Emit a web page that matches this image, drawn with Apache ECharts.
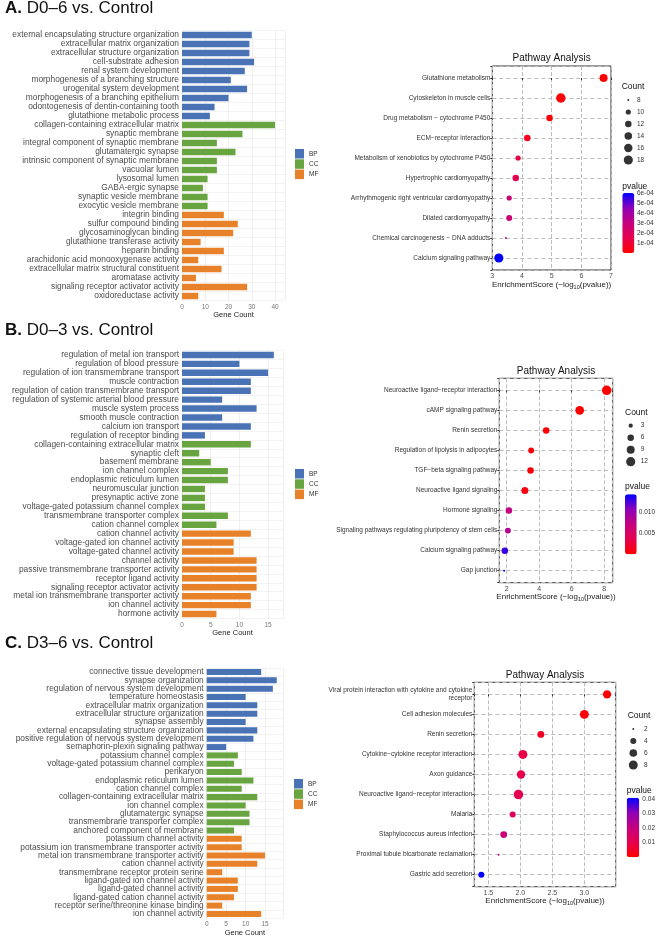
<!DOCTYPE html>
<html>
<head>
<meta charset="utf-8">
<title>GO / KEGG enrichment</title>
<style>
html, body { margin: 0; padding: 0; background: #fff; }
#main { width: 658px; height: 938px; }
</style>
</head>
<body>
<div id="main"></div>
<script src="https://cdn.jsdelivr.net/npm/echarts@6/dist/echarts.min.js"></script>
<script>
// ---------- A. D0-6 vs. Control ----------
var goA_bp = ['external encapsulating structure organization', 'extracellular matrix organization', 'extracellular structure organization', 'cell-substrate adhesion', 'renal system development', 'morphogenesis of a branching structure', 'urogenital system development', 'morphogenesis of a branching epithelium', 'odontogenesis of dentin-containing tooth', 'glutathione metabolic process'];
var goA_bpCount = [30, 29, 29, 31, 27, 21, 28, 20, 14, 12];
var goA_cc = ['collagen-containing extracellular matrix', 'synaptic membrane', 'integral component of synaptic membrane', 'glutamatergic synapse', 'intrinsic component of synaptic membrane', 'vacuolar lumen', 'lysosomal lumen', 'GABA-ergic synapse', 'synaptic vesicle membrane', 'exocytic vesicle membrane'];
var goA_ccCount = [40, 26, 15, 23, 15, 15, 11, 9, 11, 11];
var goA_mf = ['integrin binding', 'sulfur compound binding', 'glycosaminoglycan binding', 'glutathione transferase activity', 'heparin binding', 'arachidonic acid monooxygenase activity', 'extracellular matrix structural constituent', 'aromatase activity', 'signaling receptor activator activity', 'oxidoreductase activity'];
var goA_mfCount = [18, 24, 22, 8, 18, 7, 17, 6, 28, 7];

var keggA_terms = ['Glutathione metabolism', 'Cytoskeleton in muscle cells', 'Drug metabolism \u2212 cytochrome P450', 'ECM\u2212receptor interaction', 'Metabolism of xenobiotics by cytochrome P450', 'Hypertrophic cardiomyopathy', 'Arrhythmogenic right ventricular cardiomyopathy', 'Dilated cardiomyopathy', 'Chemical carcinogenesis \u2212 DNA adducts', 'Calcium signaling pathway'];
var keggA_score = [6.75, 5.31, 4.93, 4.18, 3.87, 3.79, 3.57, 3.57, 3.46, 3.22];
var keggA_count = [15, 19, 12, 12, 10, 12, 10, 11, 8, 18];
var keggA_pvalue = [1.8e-7, 4.9e-6, 1.2e-5, 6.6e-5, 1.35e-4, 1.6e-4, 2.7e-4, 2.7e-4, 3.5e-4, 6.0e-4];
var countA_breaks = [8, 10, 12, 14, 16, 18];

// ---------- B. D0-3 vs. Control ----------
var goB_bp = ['regulation of metal ion transport', 'regulation of blood pressure', 'regulation of ion transmembrane transport', 'muscle contraction', 'regulation of cation transmembrane transport', 'regulation of systemic arterial blood pressure', 'muscle system process', 'smooth muscle contraction', 'calcium ion transport', 'regulation of receptor binding'];
var goB_bpCount = [16, 10, 15, 12, 12, 7, 13, 7, 12, 4];
var goB_cc = ['collagen-containing extracellular matrix', 'synaptic cleft', 'basement membrane', 'ion channel complex', 'endoplasmic reticulum lumen', 'neuromuscular junction', 'presynaptic active zone', 'voltage-gated potassium channel complex', 'transmembrane transporter complex', 'cation channel complex'];
var goB_ccCount = [12, 3, 5, 8, 8, 4, 4, 4, 8, 6];
var goB_mf = ['cation channel activity', 'voltage-gated ion channel activity', 'voltage-gated channel activity', 'channel activity', 'passive transmembrane transporter activity', 'receptor ligand activity', 'signaling receptor activator activity', 'metal ion transmembrane transporter activity', 'ion channel activity', 'hormone activity'];
var goB_mfCount = [12, 9, 9, 13, 13, 13, 13, 12, 12, 6];

var keggB_terms = ['Neuroactive ligand\u2212receptor interaction', 'cAMP signaling pathway', 'Renin secretion', 'Regulation of lipolysis in adipocytes', 'TGF\u2212beta signaling pathway', 'Neuroactive ligand signaling', 'Hormone signaling', 'Signaling pathways regulating pluripotency of stem cells', 'Calcium signaling pathway', 'Gap junction'];
var keggB_score = [8.15, 6.49, 4.43, 3.51, 3.47, 3.12, 2.14, 2.08, 1.89, 1.845];
var keggB_count = [13, 11, 6, 5, 6, 7, 6, 5, 6, 2];
var keggB_pvalue = [7.1e-9, 3.2e-7, 3.7e-5, 3.1e-4, 3.4e-4, 7.6e-4, 0.0072, 0.0083, 0.0129, 0.0143];
var countB_breaks = [3, 6, 9, 12];

// ---------- C. D3-6 vs. Control ----------
var goC_bp = ['connective tissue development', 'synapse organization', 'regulation of nervous system development', 'temperature homeostasis', 'extracellular matrix organization', 'extracellular structure organization', 'synapse assembly', 'external encapsulating structure organization', 'positive regulation of nervous system development', 'semaphorin-plexin signaling pathway'];
var goC_bpCount = [14, 18, 17, 10, 13, 13, 10, 13, 12, 5];
var goC_cc = ['potassium channel complex', 'voltage-gated potassium channel complex', 'perikaryon', 'endoplasmic reticulum lumen', 'cation channel complex', 'collagen-containing extracellular matrix', 'ion channel complex', 'glutamatergic synapse', 'transmembrane transporter complex', 'anchored component of membrane'];
var goC_ccCount = [8, 7, 9, 12, 9, 13, 10, 11, 11, 7];
var goC_mf = ['potassium channel activity', 'potassium ion transmembrane transporter activity', 'metal ion transmembrane transporter activity', 'cation channel activity', 'transmembrane receptor protein serine', 'ligand-gated ion channel activity', 'ligand-gated channel activity', 'ligand-gated cation channel activity', 'receptor serine/threonine kinase binding', 'ion channel activity'];
var goC_mfCount = [9, 9, 15, 13, 4, 8, 8, 7, 4, 14];

var keggC_terms = ['Viral protein interaction with cytokine and cytokine\nreceptor', 'Cell adhesion molecules', 'Renin secretion', 'Cytokine\u2212cytokine receptor interaction', 'Axon guidance', 'Neuroactive ligand\u2212receptor interaction', 'Malaria', 'Staphylococcus aureus infection', 'Proximal tubule bicarbonate reclamation', 'Gastric acid secretion'];
var keggC_score = [3.355, 3.0, 2.32, 2.04, 2.01, 1.97, 1.88, 1.74, 1.66, 1.39];
var keggC_count = [7, 8, 5, 8, 7, 9, 4, 5, 2, 4];
var keggC_pvalue = [0.00044, 0.0010, 0.0048, 0.0091, 0.0098, 0.0107, 0.0132, 0.0182, 0.0219, 0.0407];
var countC_breaks = [2, 4, 6, 8];

var FONT = '"Liberation Sans", Arial, sans-serif';
var BLUE = '#4a73b5', GREEN = '#68a43f', ORANGE = '#e8822a';
var PCOLORS = ['#ff0000', '#e6004e', '#c4007e', '#8f00b8', '#0000ff'];

// layout of each panel (pixels)
var panels = [
  {
    tag: 'A.', name: 'D0\u20136 vs. Control', titleTop: 0,
    go: [goA_bp, goA_bpCount, goA_cc, goA_ccCount, goA_mf, goA_mfCount],
    bar: { left: 182, top: 30.5, width: 103, height: 270, max: 44.3, step: 10, nameGap: 9 },
    legend: { left: 295, top: 149 },
    kegg: [keggA_terms, keggA_score, keggA_count, keggA_pvalue],
    bub: { left: 492.3, top: 66, width: 118.7, height: 204, min: 3, max: 7, step: 1, dec: 0 },
    breaks: countA_breaks, cnt: { x: 628.3, y: 100, labelX: 637, titleX: 621.7, titleY: 86.7 },
    cbar: { left: 622.3, top: 193, width: 12, height: 60, max: 6e-4, step: 1e-4, titleY: 186.5, labelX: 637,
      fmt: function (v) { return v.toExponential(0).replace('e-', 'e-0'); } }
  },
  {
    tag: 'B.', name: 'D0\u20133 vs. Control', titleTop: 322,
    go: [goB_bp, goB_bpCount, goB_cc, goB_ccCount, goB_mf, goB_mfCount],
    bar: { left: 182, top: 350.5, width: 101, height: 268, max: 17.6, step: 5, nameGap: 10 },
    legend: { left: 295, top: 469 },
    kegg: [keggB_terms, keggB_score, keggB_count, keggB_pvalue],
    bub: { left: 499.3, top: 378.3, width: 113.4, height: 204.4, min: 1.55, max: 8.52, step: 2, dec: 0 },
    breaks: countB_breaks, cnt: { x: 630.7, y: 425.7, labelX: 640.7, titleX: 625, titleY: 412.3 },
    cbar: { left: 625, top: 494.3, width: 11.7, height: 60, max: 0.0143, step: 0.005, titleY: 486.7, labelX: 640.7,
      fmt: function (v) { return v.toFixed(3); } }
  },
  {
    tag: 'C.', name: 'D3\u20136 vs. Control', titleTop: 635,
    go: [goC_bp, goC_bpCount, goC_cc, goC_ccCount, goC_mf, goC_mfCount],
    bar: { left: 206.7, top: 667.8, width: 76.3, height: 252.4, max: 19.6, step: 5, nameGap: 9 },
    legend: { left: 294, top: 779 },
    kegg: [keggC_terms, keggC_score, keggC_count, keggC_pvalue],
    bub: { left: 474.3, top: 682.3, width: 141.4, height: 204.4, min: 1.28, max: 3.49, step: 0.5, dec: 1 },
    breaks: countC_breaks, cnt: { x: 633.3, y: 729, labelX: 644, titleX: 627.7, titleY: 715.7 },
    cbar: { left: 626.7, top: 797.7, width: 12.6, height: 59.6, max: 0.0407, step: 0.01, titleY: 790.7, labelX: 645,
      fmt: function (v) { return v.toFixed(2); } }
  }
];

function onStep(v, step) {
  var k = v / step;
  return Math.abs(k - Math.round(k)) < 1e-6;
}

function sizer(counts) {
  var lo = Math.min.apply(null, counts), hi = Math.max.apply(null, counts);
  return function (c) {
    return 2 + 7.5 * Math.sqrt(Math.max(0, (c - lo) / (hi - lo)));
  };
}

function place(vals, offset, total) {
  var out = [];
  for (var i = 0; i < total; i++) {
    out.push(i >= offset && i < offset + vals.length ? vals[i - offset] : null);
  }
  return out;
}

function gText(x, y, text, size, align) {
  return {
    type: 'text', x: x, y: y, silent: true,
    style: {
      text: text, fill: '#111', font: size + 'px ' + FONT, fontSize: size, fontFamily: FONT,
      align: align, textAlign: align, verticalAlign: 'middle', textVerticalAlign: 'middle'
    }
  };
}

var option = {
  backgroundColor: '#fff',
  animation: false,
  textStyle: { fontFamily: FONT },
  title: [], grid: [], xAxis: [], yAxis: [], series: [], legend: [], visualMap: [], graphic: []
};

panels.forEach(function (P) {
  // heading
  option.title.push({
    text: '{b|' + P.tag + '} ' + P.name, left: 5, top: P.titleTop, padding: 0,
    textStyle: {
      fontSize: 17, fontWeight: 'normal', color: '#111', fontFamily: FONT,
      rich: { b: { fontSize: 17, fontWeight: 'bold', color: '#111', fontFamily: FONT } }
    }
  });

  // ----- GO bar chart -----
  var g = P.go;
  var cats = g[0].concat(g[2], g[4]);
  var n = cats.length;
  var gi = option.grid.length;
  option.grid.push({ left: P.bar.left, top: P.bar.top, width: P.bar.width, height: P.bar.height });
  option.xAxis.push({
    type: 'value', gridIndex: gi, min: 0, max: P.bar.max, interval: P.bar.step,
    axisLine: { show: false }, axisTick: { show: false },
    axisLabel: { fontSize: 6.5, color: '#777', margin: 3,
      formatter: function (v) { return onStep(v, P.bar.step) ? String(v) : ''; } },
    splitLine: { lineStyle: { color: '#ebebeb', width: 0.8 } },
    name: 'Gene Count', nameLocation: 'middle', nameGap: P.bar.nameGap,
    nameTextStyle: { fontSize: 7.5, color: '#222' }
  });
  option.yAxis.push({
    type: 'category', gridIndex: gi, inverse: true, data: cats,
    axisLine: { show: false }, axisTick: { show: false },
    axisLabel: { fontSize: 8.4, color: '#4d4d4d', margin: 3, interval: 0 },
    splitLine: { show: true, lineStyle: { color: '#f0f0f0', width: 0.8 } }
  });
  [['BP', g[1], 0, BLUE], ['CC', g[3], g[0].length, GREEN], ['MF', g[5], g[0].length + g[2].length, ORANGE]].forEach(function (s) {
    option.series.push({
      type: 'bar', name: s[0], xAxisIndex: gi, yAxisIndex: gi, stack: P.tag,
      barWidth: '72%', itemStyle: { color: s[3] },
      data: place(s[1], s[2], n)
    });
  });
  option.legend.push({
    data: ['BP', 'CC', 'MF'], orient: 'vertical', left: P.legend.left, top: P.legend.top,
    padding: 0, itemWidth: 9, itemHeight: 9.5, itemGap: 0.8, icon: 'rect', selectedMode: false,
    textStyle: { fontSize: 6.5, color: '#333' }
  });

  // ----- KEGG bubble chart -----
  var K = P.kegg, B = P.bub;
  var sz = sizer(K[2]);
  gi = option.grid.length;
  option.grid.push({ left: B.left, top: B.top, width: B.width, height: B.height, show: true,
    borderColor: '#333', borderWidth: 1 });
  option.xAxis.push({
    type: 'value', gridIndex: gi, min: B.min, max: B.max, minInterval: B.step, maxInterval: B.step, z: 1,
    axisLine: { show: false }, axisTick: { show: true, length: 2, lineStyle: { color: '#333' } },
    axisLabel: { fontSize: 7, color: '#4d4d4d', margin: 2.5,
      formatter: function (v) { return onStep(v, B.step) ? v.toFixed(B.dec) : ''; } },
    splitLine: { show: true, lineStyle: { color: '#bdbdbd', type: 'dashed', width: 1 } },
    name: 'EnrichmentScore (\u2212log{s|10}(pvalue))', nameLocation: 'middle', nameGap: 9,
    nameTextStyle: { fontSize: 8, color: '#222', rich: { s: { fontSize: 5.5, color: '#222', padding: [5, 0, 0, 0] } } }
  });
  option.yAxis.push({
    type: 'value', gridIndex: gi, inverse: true, min: -0.6, max: K[0].length - 0.4, minInterval: 1, maxInterval: 1, z: 1,
    axisLine: { show: false }, axisTick: { show: true, length: 2, lineStyle: { color: '#333' } },
    axisLabel: { fontSize: 6.5, color: '#333', margin: 2, lineHeight: 8,
      formatter: function (v) { return onStep(v, 1) && K[0][Math.round(v)] ? K[0][Math.round(v)] : ''; } },
    splitLine: { show: true, lineStyle: { color: '#bdbdbd', type: [4, 3], width: 1 } }
  });
  option.series.push({
    type: 'scatter', name: P.tag + ' pathways', xAxisIndex: gi, yAxisIndex: gi, z: 3,
    data: K[0].map(function (t, i) { return [K[1][i], i, K[3][i], K[2][i]]; }),
    symbolSize: function (v) { return sz(v[3]); },
    itemStyle: { opacity: 1 }
  });
  var si = option.series.length - 1;
  option.graphic.push(gText(B.left + B.width / 2, B.top - 7.5, 'Pathway Analysis', 10, 'center'));

  // pvalue colour bar
  var C = P.cbar;
  option.visualMap.push({
    type: 'continuous', seriesIndex: si, dimension: 2, min: 0, max: C.max,
    inRange: { color: PCOLORS }, orient: 'vertical', left: C.left, top: C.top,
    itemWidth: C.width, itemHeight: C.height, calculable: false, padding: 0, hoverLink: false
  });
  gi = option.grid.length;
  option.grid.push({ left: C.left, top: C.top, width: C.width, height: C.height });
  option.xAxis.push({ type: 'value', gridIndex: gi, show: false });
  option.yAxis.push({
    type: 'value', gridIndex: gi, position: 'right', min: 0, max: C.max, interval: C.step, z: 10,
    axisLine: { show: false }, axisTick: { show: true, inside: true, length: 2.5, lineStyle: { color: '#fff' } },
    axisLabel: { fontSize: 6.5, color: '#333', margin: C.labelX - (C.left + C.width),
      formatter: function (v) { return v > 0 && onStep(v, C.step) ? C.fmt(v) : ''; } },
    splitLine: { show: false }
  });
  option.graphic.push(gText(C.left, C.titleY, 'pvalue', 8.5, 'left'));

  // Count size legend
  var S = P.cnt, nb = P.breaks.length;
  gi = option.grid.length;
  option.grid.push({ left: S.x - 5, top: S.y - 6, width: 10, height: nb * 12 });
  option.xAxis.push({ type: 'value', gridIndex: gi, show: false, min: -1, max: 1 });
  option.yAxis.push({
    type: 'category', gridIndex: gi, inverse: true, position: 'right', data: P.breaks.map(String),
    axisLine: { show: false }, axisTick: { show: false }, splitLine: { show: false },
    axisLabel: { fontSize: 6.5, color: '#333', margin: S.labelX - (S.x + 5), interval: 0 }
  });
  option.series.push({
    type: 'scatter', name: P.tag + ' count', xAxisIndex: gi, yAxisIndex: gi, silent: true,
    data: P.breaks.map(function (b, i) { return [0, i, b]; }),
    symbolSize: function (v) { return sz(v[2]); },
    itemStyle: { color: '#000' }
  });
  option.graphic.push(gText(S.titleX, S.titleY, 'Count', 8.5, 'left'));
});

var chart = echarts.init(document.getElementById('main'), null, { renderer: 'canvas' });
chart.setOption(option);
</script>
</body>
</html>
